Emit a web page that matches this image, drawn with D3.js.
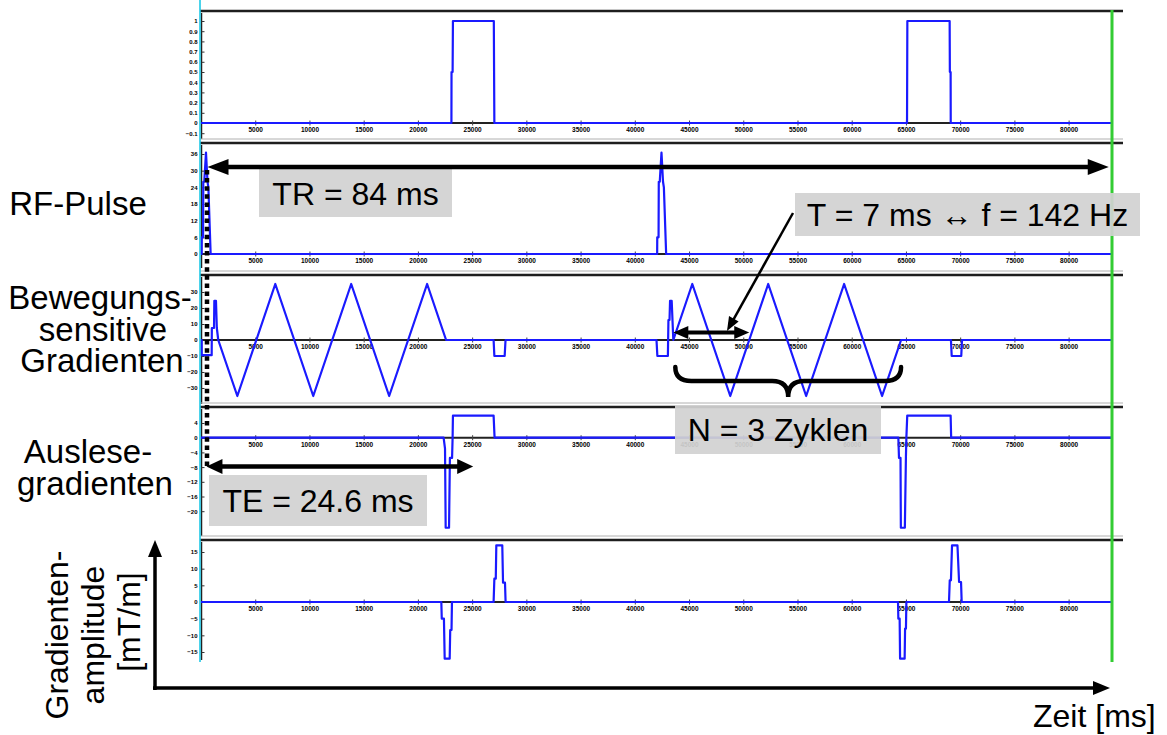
<!DOCTYPE html>
<html>
<head>
<meta charset="utf-8">
<script src="https://cdn.jsdelivr.net/npm/d3@7"></script>
<style>
  html, body { margin: 0; padding: 0; background: #ffffff; }
  svg { display: block; }
  .lbl { font-family: "Liberation Sans", Arial, sans-serif; font-size: 32px; fill: #000; }
  .row { font-size: 33px; }
  .tick text { font-family: "Liberation Sans", Arial, sans-serif; font-weight: bold; fill: #000; }
</style>
</head>
<body>
<svg id="chart" width="1167" height="735"></svg>
<script>
// ---- time axis (µs) ----
const timeDomain = [0, 84000];
const xTickValues = [5000, 10000, 15000, 20000, 25000, 30000, 35000, 40000,
  45000, 50000, 55000, 60000, 65000, 70000, 75000, 80000];

// ---- waveforms: [time µs, amplitude] ----
const readoutWindow = [
  [0, 0], [23090, 0], [23100, 0.5], [23200, 0.5], [23230, 1], [27000, 1], [27050, 0],
  [65100, 0], [65130, 1], [69030, 1], [69050, 0.5], [69120, 0.5], [69130, 0], [84000, 0]
];
const rfPulse = [
  [0, 0], [60, 0], [70, 6], [190, 6], [210, 26], [300, 26], [460, 36.5], [600, 26], [680, 24], [890, 0],
  [42060, 0], [42070, 6], [42190, 6], [42210, 26], [42300, 26], [42460, 36.5], [42600, 26], [42680, 24],
  [42890, 0], [84000, 0]
];
const motionGradient = [
  [0, 0], [64, 0], [64, -9.5], [985, -9.5], [1000, 7.5], [1200, 7.5], [1230, 24.5], [1380, 24.5],
  [1460, 7.5], [1590, 0], [3350, -35], [6850, 35], [10350, -35], [13850, 35], [17350, -35],
  [20850, 35], [22600, 0], [26980, 0], [27050, -10], [28000, -10], [28080, 0],
  [42000, 0], [42080, -10], [43050, -10], [43100, 12.5], [43200, 12.5], [43250, 24.5], [43400, 24.5],
  [43550, 0], [45300, 35], [48800, -35], [52300, 35], [55800, -35], [59300, 35], [62800, -35],
  [64550, 0], [69150, 0], [69220, -10], [70100, -10], [70170, 0], [84000, 0]
];
const readGradient = [
  [0, 0], [22370, 0], [22500, -3], [22560, -24.5], [22870, -24.5], [22950, -5.5], [23150, -5.5],
  [23200, 0], [23230, 6], [26980, 6], [27070, 0],
  [64300, 0], [64360, -5.5], [64500, -5.5], [64530, -24.5], [64900, -24.5], [65000, -5], [65040, 0],
  [65120, 6], [69120, 6], [69170, 0], [84000, 0]
];
const phaseGradient = [
  [0, 0], [22160, 0], [22200, -5], [22400, -5], [22470, -17], [22930, -17], [22980, -8.4],
  [23100, -8.4], [23140, 0],
  [26980, 0], [27050, 7], [27180, 7], [27230, 17], [27780, 17], [27850, 5.8], [28030, 5.8], [28085, 0],
  [64270, 0], [64300, -5], [64420, -5], [64460, -17], [64880, -17], [64920, -8], [65000, -8], [65040, 0],
  [68970, 0], [69040, 6.5], [69150, 6.5], [69250, 17], [69750, 17], [69900, 6], [70080, 6], [70140, 0],
  [84000, 0]
];

// ---- amplitude tick labels per panel ----
const ticksWindow = [1, 0.9, 0.8, 0.7, 0.6, 0.5, 0.4, 0.3, 0.2, 0.1, 0, -0.1];
const ticksRF = [36, 30, 24, 18, 12, 6, 0];
const ticksMotion = [30, 20, 10, 0, -10, -20, -30];
const ticksRead = [4, 0, -4, -8, -12, -16, -20];
const ticksPhase = [15, 10, 5, 0, -5, -10, -15];

// ---- sequence timing used by the annotations (µs) ----
const rfCentre = 500;
const echoTime = 24600;
const repTime = 84000;
const period = 7000;
const cycles = 3;
const cycleStart = 43550;

const svg = d3.select("#chart");

const x = d3.scaleLinear().domain(timeDomain).range([201, 1112]);

const fmtFrac = d => d === 0 ? "0" : d3.format(".1f")(d).replace(/\.0$/, "");
const fmtInt = d3.format("d");

// panel frames: top/bottom pixel, and two reference values for the amplitude scale
const panels = [
  { data: readoutWindow, ticks: ticksWindow, top: 11, bottom: 139, ref: [[0, 123], [1, 21]], fmt: fmtFrac },
  { data: rfPulse, ticks: ticksRF, top: 143, bottom: 268, ref: [[0, 254], [36, 154]], fmt: fmtInt },
  { data: motionGradient, ticks: ticksMotion, top: 275, bottom: 404, ref: [[0, 340], [30, 292]], fmt: fmtInt },
  { data: readGradient, ticks: ticksRead, top: 407, bottom: 536, ref: [[0, 437.7], [4, 423]], fmt: fmtInt },
  { data: phaseGradient, ticks: ticksPhase, top: 540, bottom: 660, ref: [[0, 602], [15, 552]], fmt: fmtInt }
];

const line = d3.line().x(d => x(d[0]));

panels.forEach((p, i) => {
  const y = d3.scaleLinear().domain([p.ref[0][0], p.ref[1][0]]).range([p.ref[0][1], p.ref[1][1]]);
  const g = svg.append("g");

  // frame top rule
  if (i > 0) {
    g.append("line").attr("x1", 200).attr("x2", 1123).attr("y1", p.top - 4).attr("y2", p.top - 4)
      .attr("stroke", "#b0b0b0").attr("stroke-width", 1);
  }
  g.append("line").attr("x1", 200).attr("x2", 1123).attr("y1", p.top).attr("y2", p.top)
    .attr("stroke", "#1e1e1e").attr("stroke-width", 2.5);

  // amplitude axis
  g.append("line").attr("x1", 201.5).attr("x2", 201.5).attr("y1", p.top + 2).attr("y2", p.bottom)
    .attr("stroke", "#222").attr("stroke-width", 1.5);
  const ya = d3.axisLeft(y).tickValues(p.ticks).tickSizeInner(-3).tickSizeOuter(0).tickPadding(4)
    .tickFormat(p.fmt);
  const yg = g.append("g").attr("transform", "translate(201.5,0)").call(ya);
  yg.select(".domain").remove();
  yg.selectAll("line").attr("stroke", "#333");
  yg.selectAll("text").style("font-size", "6px");

  // time axis at zero amplitude
  const z = y(0);
  g.append("line").attr("x1", x(timeDomain[0])).attr("x2", x(timeDomain[1])).attr("y1", z).attr("y2", z)
    .attr("stroke", "#222").attr("stroke-width", 2);
  const xa = d3.axisBottom(x).tickValues(xTickValues).tickSize(5).tickPadding(2).tickFormat(d3.format("d"));
  const xg = g.append("g").attr("transform", `translate(0,${z - 2.5})`).call(xa);
  xg.select(".domain").remove();
  xg.selectAll("line").attr("stroke", "#444").attr("stroke-width", 1);
  xg.selectAll("text").style("font-size", "6.5px");

  // waveform
  g.append("path").datum(p.data).attr("d", line.y(d => y(d[1])))
    .attr("fill", "none").attr("stroke", "#1a1aff").attr("stroke-width", 2.2)
    .attr("stroke-linejoin", "round");
});

// start marker and end-of-TR marker
svg.append("line").attr("x1", 200).attr("x2", 200).attr("y1", 0).attr("y2", 662)
  .attr("stroke", "#1ec8e6").attr("stroke-width", 1.6);
svg.append("line").attr("x1", x(repTime)).attr("x2", x(repTime)).attr("y1", 10).attr("y2", 662)
  .attr("stroke", "#33cc33").attr("stroke-width", 3);

// ---- annotation helpers ----
function head(g, tx, ty, fx, fy, len, hw) {
  const a = Math.atan2(ty - fy, tx - fx);
  const bx = tx - len * Math.cos(a), by = ty - len * Math.sin(a);
  const nx = -Math.sin(a) * hw, ny = Math.cos(a) * hw;
  g.append("path")
    .attr("d", `M${tx},${ty}L${bx + nx},${by + ny}L${bx - nx},${by - ny}Z`)
    .attr("fill", "#000");
}
function arrow(x1, y1, x2, y2, w, len, hw, both) {
  const g = svg.append("g");
  const a = Math.atan2(y2 - y1, x2 - x1);
  const sx = both ? x1 + (len - 2) * Math.cos(a) : x1, sy = both ? y1 + (len - 2) * Math.sin(a) : y1;
  g.append("line").attr("x1", sx).attr("y1", sy)
    .attr("x2", x2 - (len - 2) * Math.cos(a)).attr("y2", y2 - (len - 2) * Math.sin(a))
    .attr("stroke", "#000").attr("stroke-width", w);
  head(g, x2, y2, x1, y1, len, hw);
  if (both) head(g, x1, y1, x2, y2, len, hw);
}
function box(x0, y0, w, h) {
  svg.append("rect").attr("x", x0).attr("y", y0).attr("width", w).attr("height", h)
    .attr("fill", "#d2d2d2").attr("fill-opacity", 0.93);
}
function label(t, px, py, anchor, cls) {
  svg.append("text").attr("class", "lbl" + (cls ? " " + cls : "")).attr("x", px).attr("y", py)
    .attr("text-anchor", anchor || "start").text(t);
}

// TR
box(259, 167, 193, 50);
label("TR = 84 ms", 355.5, 205, "middle");
arrow(x(rfCentre + 100), 167, x(repTime - 300), 167, 4.5, 21, 8, true);

// TE
box(209, 475, 218, 51);
label("TE = 24.6 ms", 318, 512, "middle");
arrow(x(rfCentre), 466.5, x(rfCentre + echoTime), 466.5, 4.5, 16, 7.5, true);

// dotted line from the RF pulse
svg.append("line").attr("x1", 207).attr("x2", 207).attr("y1", 170).attr("y2", 466)
  .attr("stroke", "#000").attr("stroke-width", 4.5).attr("stroke-dasharray", "4.5,3.6");

// period
box(795, 193, 345, 43);
label("T = 7 ms \u2194 f = 142 Hz", 967.5, 226, "middle");
arrow(x(cycleStart), 332.5, x(cycleStart + period), 332.5, 4, 15, 6.5, true);
arrow(793, 213, 727, 331, 2.5, 14, 5.5, false);

// cycles brace
{
  const bx0 = x(cycleStart) + 2, bx1 = x(cycleStart + cycles * period);
  const bm = (bx0 + bx1) / 2, yt = 367, ym = 381, yb = 397;
  svg.append("path")
    .attr("d", `M${bx0},${yt} Q${bx0},${ym} ${bx0 + 16},${ym} L${bm - 16},${ym} Q${bm},${ym} ${bm},${yb}` +
      ` Q${bm},${ym} ${bm + 16},${ym} L${bx1 - 16},${ym} Q${bx1},${ym} ${bx1},${yt}`)
    .attr("fill", "none").attr("stroke", "#000").attr("stroke-width", 4.5).attr("stroke-linecap", "round");
}
box(675, 405, 206, 49);
label("N = 3 Zyklen", 778, 441, "middle");

// row labels
label("RF-Pulse", 78, 215, "middle", "row");
label("Bewegungs-", 100, 309, "middle", "row");
label("sensitive", 103, 341, "middle", "row");
label("Gradienten", 102, 372, "middle", "row");
label("Auslese-", 88, 463, "middle", "row");
label("gradienten", 95, 495, "middle", "row");

// coordinate arrows
arrow(155, 690, 155, 540, 3.5, 17, 7, false);
arrow(153, 688, 1110, 688, 3.5, 17, 7, false);
label("Zeit [ms]", 1033, 727);

[["Gradienten-", 68, 635], ["amplitude", 104, 635], ["[mT/m]", 140, 622]].forEach(([t, bx, cy]) => {
  svg.append("text").attr("class", "lbl").attr("text-anchor", "middle")
    .attr("transform", `translate(${bx},${cy}) rotate(-90)`).text(t);
});
</script>
</body>
</html>
